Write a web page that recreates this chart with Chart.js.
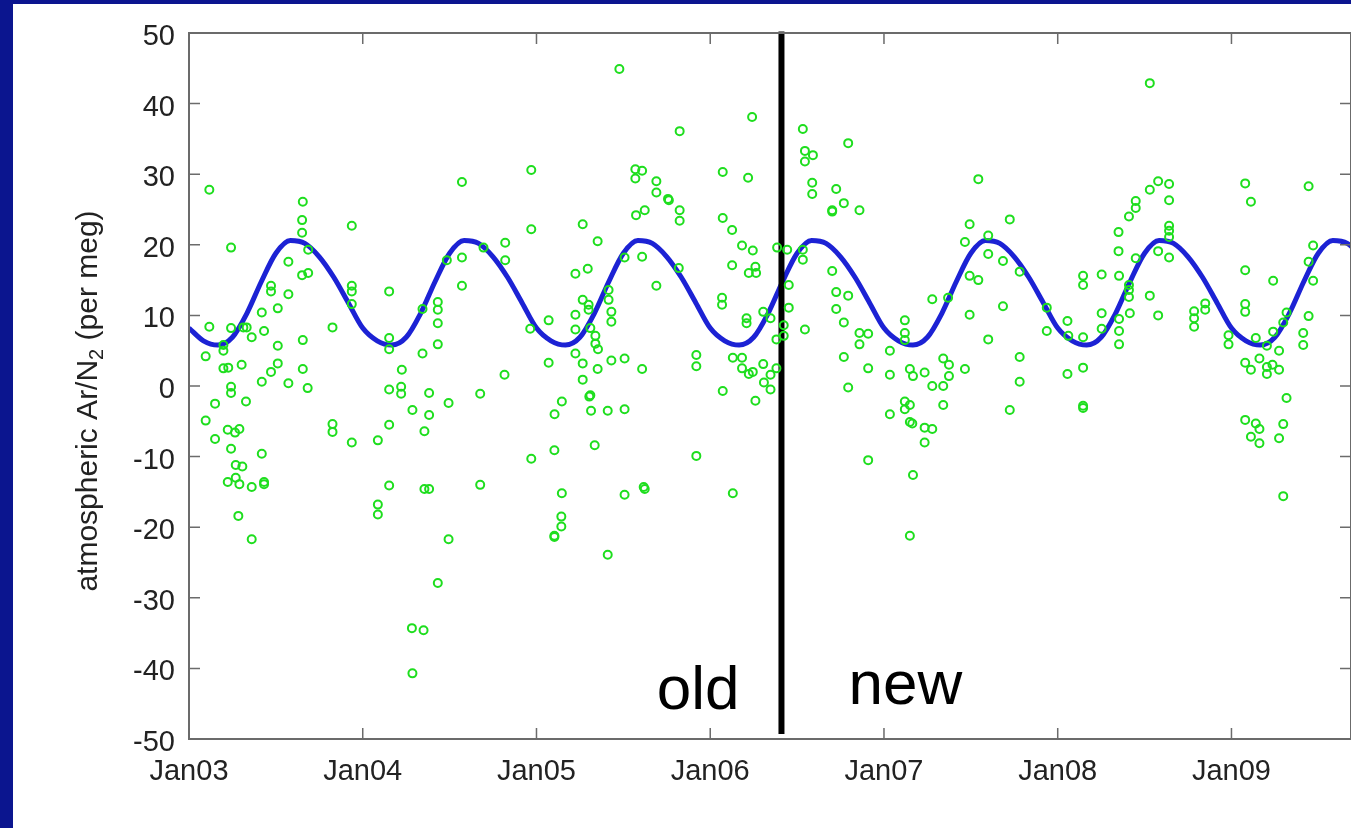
<!DOCTYPE html>
<html>
<head>
<meta charset="utf-8">
<script src="https://cdn.jsdelivr.net/npm/chart.js@4.4.1/dist/chart.umd.min.js"></script>
<style>
  html, body { margin: 0; padding: 0; width: 1351px; height: 828px; overflow: hidden; background: #0b158f; }
  #moldura { position: absolute; left: 13px; top: 4px; width: 1350px; height: 824px; background: #fff; }
  canvas { display: block; }
</style>
</head>
<body>
<div id="moldura"><canvas id="graficoArN2" width="1350" height="824"></canvas></div>
<script>
// Eixos
const anosTicks = [2003, 2004, 2005, 2006, 2007, 2008, 2009];
const rotulosTicks = ["Jan03", "Jan04", "Jan05", "Jan06", "Jan07", "Jan08", "Jan09"];
const anoInicial = 2003;
const anoFinal = 2009.688;
const yMin = -50;
const yMax = 50;
const anoDivisao = 2006.41; // linha preta "old" / "new"

// Medidas (ano decimal, per meg)
const anosObs = [
  2003.117, 2003.242, 2003.655, 2003.651, 2003.651, 2003.686, 2003.572, 2003.937, 2004.571, 2004.571,
  2004.484, 2003.651, 2003.686, 2003.472, 2003.472, 2003.572, 2003.937, 2003.937, 2003.937, 2004.152,
  2004.571, 2004.432, 2004.432, 2004.432, 2004.344, 2004.432, 2004.344, 2003.511, 2003.419, 2003.117,
  2003.242, 2003.313, 2003.332, 2003.432, 2003.361, 2003.511, 2003.655, 2003.198, 2003.198, 2003.096,
  2003.198, 2003.226, 2003.303, 2003.511, 2003.472, 2003.655, 2003.826, 2004.152, 2004.152, 2004.225,
  2003.242, 2003.242, 2003.419, 2003.572, 2003.683, 2003.150, 2003.328, 2003.096, 2003.150, 2003.223,
  2003.265, 2003.290, 2003.242, 2003.419, 2003.269, 2003.307, 2003.223, 2003.269, 2003.290, 2003.361,
  2003.432, 2003.432, 2003.826, 2003.826, 2003.937, 2004.087, 2004.152, 2004.221, 2004.221, 2004.152,
  2004.286, 2004.382, 2004.382, 2004.355, 2004.494, 2004.152, 2004.355, 2004.382, 2004.676, 2003.284,
  2003.361, 2004.087, 2004.087, 2004.494, 2004.432, 2004.283, 2004.350, 2004.286, 2004.676,
  2005.477, 2004.970, 2004.970, 2005.824, 2006.241, 2005.569, 2005.608, 2005.569, 2005.690, 2005.690,
  2005.757, 2005.762, 2005.824, 2005.824, 2006.072, 2006.218, 2006.072, 2006.126, 2006.183, 2006.245,
  2006.385, 2006.443, 2005.573, 2005.623, 2005.266, 2005.352, 2004.820, 2004.820, 2004.695, 2005.608,
  2005.507, 2006.126, 2006.260, 2005.819, 2005.224, 2005.295, 2005.690, 2006.222, 2006.264, 2005.415,
  2005.415, 2005.266, 2005.300, 2005.300, 2005.224, 2005.224, 2005.431, 2005.431, 2005.070, 2004.964,
  2006.068, 2006.068, 2006.209, 2006.209, 2006.305, 2006.347, 2006.381, 2005.310, 2005.339, 2005.339,
  2005.354, 2005.070, 2005.224, 2005.266, 2005.352, 2005.431, 2005.507, 2005.608, 2005.920, 2005.920,
  2006.130, 2006.183, 2006.183, 2006.222, 2006.245, 2006.305, 2006.347, 2006.309, 2006.347, 2006.381,
  2004.816, 2005.266, 2006.072, 2006.260, 2005.304, 2005.310, 2005.146, 2005.104, 2005.314, 2005.410,
  2005.507, 2005.335, 2005.103, 2004.970, 2005.920, 2005.146, 2005.507, 2005.617, 2005.623, 2006.130,
  2005.143, 2005.143, 2005.103, 2005.103, 2005.410,
  2006.533, 2006.545, 2006.591, 2006.545, 2006.794, 2006.587, 2006.587, 2006.725, 2006.769, 2006.702,
  2006.702, 2006.859, 2007.543, 2007.493, 2007.724, 2007.466, 2007.600, 2007.600, 2007.685, 2006.533,
  2006.533, 2006.702, 2006.725, 2006.725, 2006.794, 2006.452, 2006.452, 2006.423, 2006.423, 2006.545,
  2006.769, 2006.859, 2006.909, 2006.859, 2006.769, 2006.909, 2006.794, 2007.034, 2007.034, 2007.034,
  2006.909, 2007.120, 2007.120, 2007.120, 2007.149, 2007.167, 2007.234, 2007.120, 2007.149, 2007.120,
  2007.149, 2007.163, 2007.234, 2007.278, 2007.234, 2007.167, 2007.278, 2007.341, 2007.341, 2007.374,
  2007.374, 2007.341, 2007.466, 2007.278, 2007.369, 2007.493, 2007.543, 2007.493, 2007.781, 2007.685,
  2007.600, 2007.781, 2007.781, 2007.724, 2007.937, 2007.937, 2008.056, 2008.056, 2007.149,
  2008.530, 2008.578, 2008.641, 2008.530, 2008.641, 2008.449, 2008.449, 2008.410, 2008.350, 2008.350,
  2008.449, 2008.578, 2008.641, 2008.641, 2008.641, 2008.641, 2009.079, 2009.112, 2009.444, 2009.470,
  2009.444, 2009.079, 2008.146, 2008.146, 2008.253, 2008.353, 2008.410, 2008.410, 2008.410, 2008.530,
  2008.578, 2008.253, 2008.353, 2008.415, 2008.253, 2008.353, 2008.353, 2008.061, 2008.146, 2008.146,
  2008.146, 2008.146, 2008.785, 2008.785, 2008.785, 2008.849, 2008.849, 2008.983, 2008.983, 2009.079,
  2009.079, 2009.240, 2009.140, 2009.204, 2009.240, 2009.274, 2009.298, 2009.317, 2009.444, 2009.413,
  2009.413, 2009.470, 2009.079, 2009.112, 2009.161, 2009.204, 2009.236, 2009.204, 2009.274, 2009.317,
  2009.079, 2009.140, 2009.161, 2009.112, 2009.161, 2009.298, 2009.274, 2009.298
];
const valoresObs = [
  27.8, 19.6, 26.1, 23.5, 21.7, 19.3, 17.6, 22.7, 28.9, 18.2,
  17.8, 15.7, 16.0, 14.2, 13.4, 13.0, 14.2, 13.4, 11.6, 13.4,
  14.2, 11.9, 10.8, 8.9, 10.9, 5.9, 4.6, 11.0, 10.4, 8.4,
  8.2, 8.3, 8.3, 7.8, 6.9, 5.7, 6.5, 5.0, 5.8, 4.2,
  2.5, 2.6, 3.0, 3.2, 2.0, 2.4, 8.3, 6.8, 5.2, 2.3,
  -0.1, -1.0, 0.6, 0.4, -0.3, -2.5, -2.2, -4.9, -7.5, -6.2,
  -6.6, -6.1, -8.9, -9.6, -11.2, -11.4, -13.6, -13.0, -13.9, -14.3,
  -13.6, -13.9, -5.4, -6.5, -8.0, -7.7, -0.5, -0.1, -1.1, -5.5,
  -3.4, -1.0, -4.1, -6.4, -2.4, -14.1, -14.6, -14.6, -1.1, -18.4,
  -21.7, -16.8, -18.2, -21.7, -27.9, -34.3, -34.6, -40.7, -14.0,
  44.9, 30.6, 22.2, 36.1, 38.1, 30.7, 30.5, 29.4, 29.0, 27.4,
  26.5, 26.3, 24.9, 23.4, 30.3, 29.5, 23.8, 22.1, 19.9, 19.2,
  19.6, 19.3, 24.2, 24.9, 22.9, 20.5, 20.3, 17.8, 19.6, 18.3,
  18.2, 17.1, 16.9, 16.7, 15.9, 16.6, 14.2, 16.0, 16.0, 13.6,
  12.2, 12.2, 11.5, 10.8, 10.1, 8.0, 10.5, 9.1, 9.3, 8.1,
  12.5, 11.5, 9.6, 8.9, 10.5, 9.6, 6.6, 8.2, 7.1, 6.0,
  5.2, 3.3, 4.6, 3.2, 2.4, 3.6, 3.9, 2.4, 4.4, 2.8,
  4.0, 4.0, 2.5, 1.7, 2.0, 3.1, 1.6, 0.5, -0.5, 2.5,
  1.6, 0.9, -0.7, -2.1, -1.5, -1.3, -2.2, -4.0, -3.5, -3.5,
  -3.3, -8.4, -9.1, -10.3, -9.9, -15.2, -15.4, -14.3, -14.6, -15.2,
  -18.5, -19.9, -21.2, -21.4, -23.9,
  36.4, 33.3, 32.7, 31.8, 34.4, 28.8, 27.2, 27.9, 25.9, 24.9,
  24.7, 24.9, 29.3, 22.9, 23.6, 20.4, 21.3, 18.7, 17.7, 19.3,
  17.9, 16.3, 13.3, 10.9, 12.8, 14.3, 11.1, 8.6, 7.1, 8.0,
  9.0, 7.5, 7.4, 5.9, 4.1, 2.5, -0.2, 5.0, 1.6, -4.0,
  -10.5, 9.3, 7.5, 6.5, 2.4, 1.4, 1.9, -2.2, -2.7, -3.3,
  -5.1, -5.3, -5.9, -6.1, -8.0, -12.6, 0.0, 0.0, 3.9, 3.0,
  1.4, -2.7, 2.4, 12.3, 12.5, 15.6, 15.0, 10.1, 16.2, 11.3,
  6.6, 4.1, 0.6, -3.4, 11.1, 7.8, 9.2, 1.7, -21.2,
  42.9, 29.0, 28.6, 27.8, 26.3, 26.2, 25.2, 24.0, 21.8, 19.1,
  18.1, 19.1, 22.7, 22.0, 21.1, 18.2, 28.7, 26.1, 28.3, 19.9,
  17.6, 16.4, 15.6, 14.3, 15.8, 15.6, 14.3, 13.6, 12.6, 12.8,
  10.0, 10.3, 9.5, 10.3, 8.1, 7.8, 5.9, 7.1, 6.9, 2.6,
  -2.8, -3.1, 10.6, 9.6, 8.4, 11.7, 10.8, 7.2, 5.9, 11.6,
  10.5, 14.9, 6.8, 5.7, 7.7, 5.0, 9.0, 10.4, 9.9, 7.5,
  5.8, 14.9, 3.3, 2.3, 3.9, 2.7, 3.0, 1.7, 2.3, -1.7,
  -4.8, -5.3, -6.1, -7.2, -8.1, -5.4, -7.4, -15.6
];

// Curva ajustada: um valor por mês, de Jan03 até Out09
const curvaMensal = [
  8.2, 6.4, 5.8, 6.9, 10.3, 14.8, 18.8, 20.6, 20.2, 18.3, 15.4, 11.8, // 2003
  8.2, 6.4, 5.8, 6.9, 10.3, 14.8, 18.8, 20.6, 20.2, 18.3, 15.4, 11.8, // 2004
  8.2, 6.4, 5.8, 6.9, 10.3, 14.8, 18.8, 20.6, 20.2, 18.3, 15.4, 11.8, // 2005
  8.2, 6.4, 5.8, 6.9, 10.3, 14.8, 18.8, 20.6, 20.2, 18.3, 15.4, 11.8, // 2006
  8.2, 6.4, 5.8, 6.9, 10.3, 14.8, 18.8, 20.6, 20.2, 18.3, 15.4, 11.8, // 2007
  8.2, 6.4, 5.8, 6.9, 10.3, 14.8, 18.8, 20.6, 20.2, 18.3, 15.4, 11.8, // 2008
  8.2, 6.4, 5.8, 6.9, 10.3, 14.8, 18.8, 20.6, 20.2, 18.3             // 2009
];

// Cores
const corPontos = "rgb(30, 222, 30)";
const corCurva = "#1c22d4";
const corEixo = "#6b6b6b";
const corTexto = "#222";
const fonte = "'Liberation Sans', Arial, Helvetica, sans-serif";

Chart.defaults.font.family = fonte;

// Moldura estilo matlab: caixa, ticks para dentro, título do eixo y e rótulos
const pluginMoldura = {
  id: "molduraMatlab",
  afterDraw(chart) {
    const { ctx, chartArea: a, scales } = chart;
    ctx.save();
    ctx.strokeStyle = corEixo;
    ctx.lineWidth = 2;
    ctx.strokeRect(a.left, a.top, a.right - a.left, a.bottom - a.top);

    ctx.lineWidth = 1.5;
    ctx.beginPath();
    anosTicks.forEach(ano => {
      const x = scales.x.getPixelForValue(ano);
      ctx.moveTo(x, a.bottom); ctx.lineTo(x, a.bottom - 11);
      ctx.moveTo(x, a.top); ctx.lineTo(x, a.top + 11);
    });
    scales.y.ticks.forEach(t => {
      const y = scales.y.getPixelForValue(t.value);
      ctx.moveTo(a.left, y); ctx.lineTo(a.left + 11, y);
      ctx.moveTo(a.right, y); ctx.lineTo(a.right - 11, y);
    });
    ctx.stroke();

    // Título do eixo y com subscrito
    const p1 = "atmospheric Ar/N", p2 = "2", p3 = " (per meg)";
    ctx.fillStyle = corTexto;
    ctx.textBaseline = "alphabetic";
    ctx.font = "30px " + fonte;
    const w1 = ctx.measureText(p1).width;
    const w3 = ctx.measureText(p3).width;
    ctx.font = "20px " + fonte;
    const w2 = ctx.measureText(p2).width;
    ctx.translate(84, 397);
    ctx.rotate(-Math.PI / 2);
    let pos = -(w1 + w2 + w3) / 2;
    ctx.textAlign = "left";
    ctx.font = "30px " + fonte;
    ctx.fillText(p1, pos, 0);
    pos += w1;
    ctx.font = "20px " + fonte;
    ctx.fillText(p2, pos, 6);
    pos += w2;
    ctx.font = "30px " + fonte;
    ctx.fillText(p3, pos, 0);
    ctx.restore();

    // Rótulos "old" e "new"
    ctx.save();
    ctx.fillStyle = "#000";
    ctx.font = "62px " + fonte;
    ctx.textBaseline = "alphabetic";
    ctx.textAlign = "right";
    ctx.fillText("old", scales.x.getPixelForValue(2006.168), scales.y.getPixelForValue(-45.75));
    ctx.textAlign = "left";
    ctx.fillText("new", scales.x.getPixelForValue(2006.796), scales.y.getPixelForValue(-45.0));
    ctx.restore();
  }
};

const pontosObs = anosObs.map((ano, i) => ({ x: ano, y: valoresObs[i] }));
const pontosCurva = curvaMensal.map((v, i) => ({ x: anoInicial + i / 12, y: v }));

const ctx = document.getElementById("graficoArN2").getContext("2d");
new Chart(ctx, {
  type: "scatter",
  data: {
    datasets: [
      {
        label: "medidas",
        data: pontosObs,
        pointStyle: "circle",
        pointRadius: 4,
        pointBorderWidth: 2,
        pointBackgroundColor: "rgba(0,0,0,0)",
        pointBorderColor: corPontos,
        borderColor: corPontos
      },
      {
        label: "divisao",
        data: [{ x: anoDivisao, y: -49.3 }, { x: anoDivisao, y: 50.2 }],
        showLine: true,
        borderColor: "#000",
        borderWidth: 6,
        pointRadius: 0,
        clip: false
      },
      {
        label: "ajuste",
        data: pontosCurva,
        showLine: true,
        borderColor: corCurva,
        borderWidth: 5,
        pointRadius: 0,
        cubicInterpolationMode: "monotone"
      }
    ]
  },
  options: {
    responsive: false,
    animation: false,
    devicePixelRatio: 1,
    layout: { padding: { top: 29, right: 12, left: 0, bottom: 0 } },
    plugins: { legend: { display: false }, tooltip: { enabled: false } },
    scales: {
      x: {
        type: "linear",
        min: anoInicial,
        max: anoFinal,
        grid: { display: false },
        border: { display: false },
        afterBuildTicks: s => { s.ticks = anosTicks.map(v => ({ value: v })); },
        afterFit: s => { s.height = 89; },
        ticks: {
          autoSkip: false,
          maxRotation: 0,
          padding: 8,
          color: corTexto,
          font: { size: 29 },
          callback: v => rotulosTicks[anosTicks.indexOf(v)]
        }
      },
      y: {
        min: yMin,
        max: yMax,
        grid: { display: false },
        border: { display: false },
        afterFit: s => { s.width = 176; },
        ticks: {
          stepSize: 10,
          padding: 6,
          labelOffset: 4,
          color: corTexto,
          font: { size: 29 }
        }
      }
    }
  },
  plugins: [pluginMoldura]
});
</script>
</body>
</html>
